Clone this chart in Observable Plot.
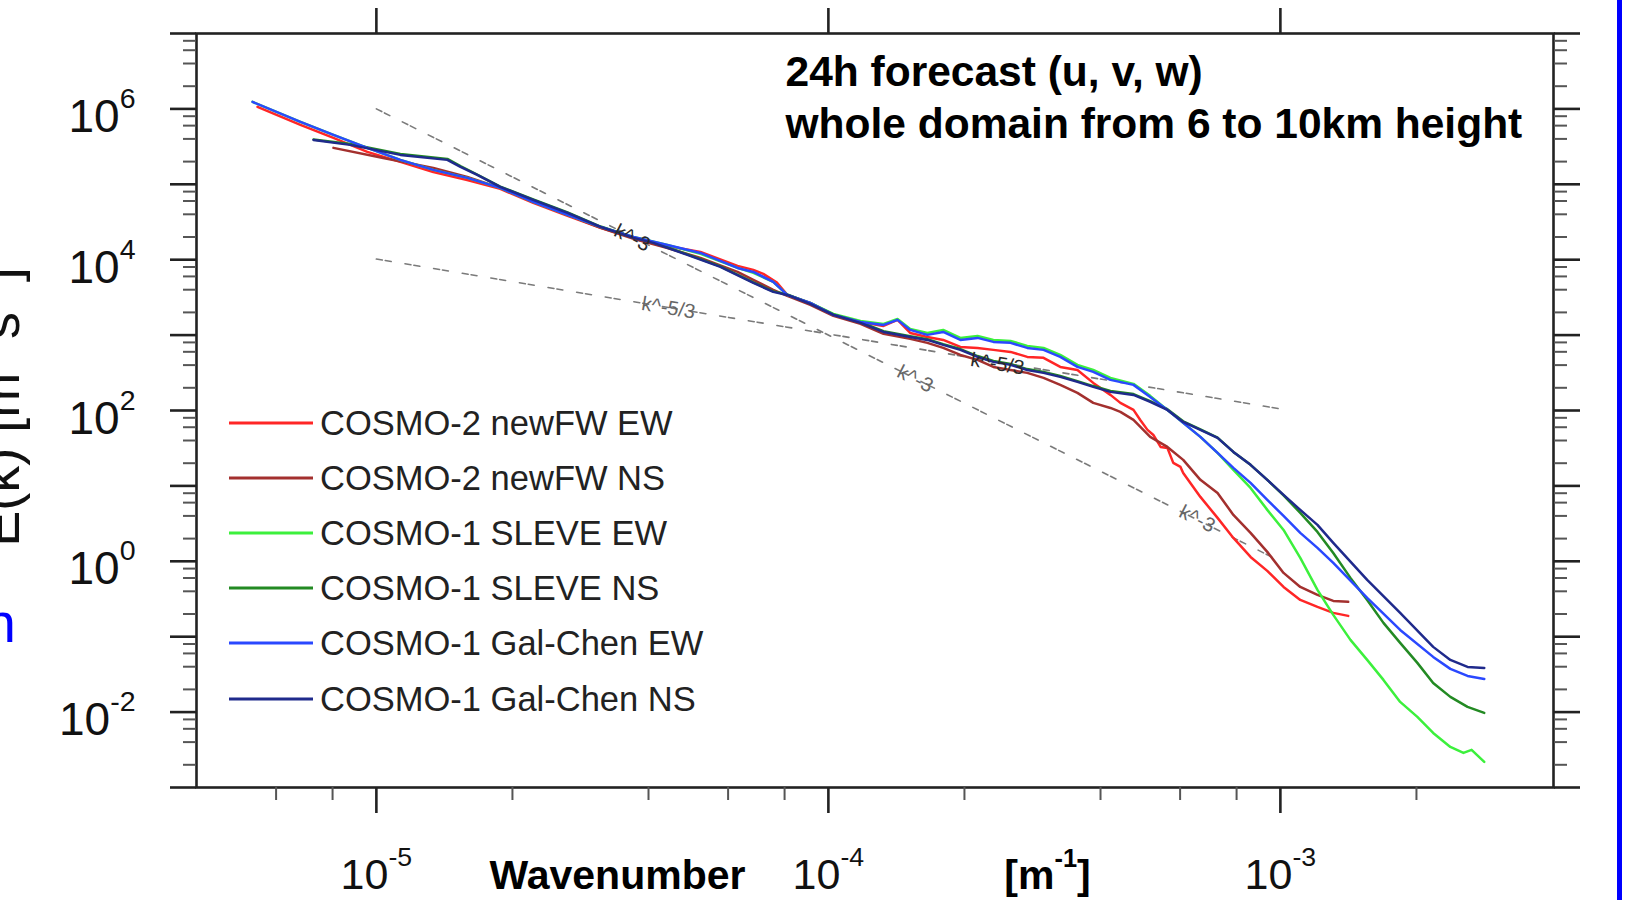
<!DOCTYPE html>
<html>
<head>
<meta charset="utf-8">
<script src="https://cdn.jsdelivr.net/npm/d3@7"></script>
<script src="https://cdn.jsdelivr.net/npm/@observablehq/plot@0.6"></script>
<style>
  html, body { margin: 0; padding: 0; background: #fff; }
  #chart { width: 1625px; height: 900px; overflow: hidden; }
</style>
</head>
<body>
<div id="chart"></div>
<script>
// ---------------- data (stored as [log10 k, log10 E]) ----------------
const seriesNames = ["COSMO-2 newFW EW", "COSMO-2 newFW NS", "COSMO-1 SLEVE EW", "COSMO-1 SLEVE NS", "COSMO-1 Gal-Chen EW", "COSMO-1 Gal-Chen NS"];
const seriesColors = ["#ff2626", "#a3302e", "#3cf03c", "#238a23", "#2a48ff", "#1f2a8c"];

const cosmo2NewFwEW = [[-5.263,6.027],[-5.168,5.788],[-5.095,5.615],[-5.020,5.430],[-4.947,5.297],[-4.874,5.164],[-4.799,5.058],[-4.726,4.939],[-4.653,4.753],[-4.577,4.581],[-4.504,4.422],[-4.431,4.289],[-4.356,4.183],[-4.283,4.103],[-4.201,3.918],[-4.166,3.865],[-4.144,3.812],[-4.113,3.692],[-4.091,3.533],[-4.040,3.427],[-3.989,3.268],[-3.929,3.175],[-3.878,3.122],[-3.847,3.202],[-3.819,3.029],[-3.781,2.976],[-3.746,2.936],[-3.708,2.843],[-3.670,2.830],[-3.635,2.804],[-3.597,2.777],[-3.560,2.711],[-3.524,2.698],[-3.487,2.578],[-3.449,2.538],[-3.414,2.366],[-3.376,2.207],[-3.354,2.101],[-3.325,2.008],[-3.310,1.875],[-3.294,1.743],[-3.281,1.676],[-3.265,1.517],[-3.250,1.504],[-3.237,1.305],[-3.221,1.252],[-3.215,1.172],[-3.177,0.854],[-3.139,0.576],[-3.104,0.310],[-3.066,0.058],[-3.029,-0.127],[-2.993,-0.340],[-2.956,-0.512],[-2.918,-0.605],[-2.883,-0.684],[-2.850,-0.724]];

const cosmo2NewFwNS = [[-5.095,5.483],[-4.985,5.350],[-4.874,5.218],[-4.799,5.098],[-4.726,4.952],[-4.653,4.767],[-4.577,4.594],[-4.504,4.422],[-4.431,4.276],[-4.356,4.156],[-4.283,4.024],[-4.201,3.838],[-4.166,3.732],[-4.122,3.600],[-4.091,3.520],[-4.040,3.401],[-3.989,3.255],[-3.929,3.149],[-3.878,3.016],[-3.819,2.950],[-3.781,2.897],[-3.746,2.830],[-3.708,2.737],[-3.670,2.671],[-3.635,2.578],[-3.597,2.538],[-3.560,2.499],[-3.524,2.432],[-3.487,2.340],[-3.449,2.233],[-3.414,2.101],[-3.376,2.034],[-3.354,1.981],[-3.325,1.875],[-3.288,1.650],[-3.250,1.517],[-3.215,1.345],[-3.177,1.080],[-3.139,0.907],[-3.104,0.615],[-3.066,0.377],[-3.029,0.125],[-2.993,-0.154],[-2.956,-0.340],[-2.918,-0.446],[-2.883,-0.525],[-2.850,-0.538]];

const cosmo1SleveEW = [[-5.274,6.093],[-5.168,5.828],[-5.095,5.655],[-5.020,5.483],[-4.947,5.324],[-4.874,5.191],[-4.799,5.085],[-4.726,4.952],[-4.653,4.767],[-4.577,4.594],[-4.504,4.435],[-4.431,4.302],[-4.356,4.196],[-4.283,4.077],[-4.201,3.891],[-4.166,3.825],[-4.122,3.706],[-4.091,3.533],[-4.040,3.427],[-3.989,3.281],[-3.929,3.188],[-3.878,3.149],[-3.847,3.215],[-3.819,3.082],[-3.781,3.029],[-3.746,3.069],[-3.708,2.963],[-3.670,2.989],[-3.635,2.936],[-3.597,2.923],[-3.560,2.857],[-3.524,2.830],[-3.487,2.737],[-3.449,2.605],[-3.414,2.538],[-3.376,2.432],[-3.325,2.353],[-3.288,2.194],[-3.250,2.008],[-3.215,1.836],[-3.177,1.650],[-3.139,1.438],[-3.104,1.212],[-3.066,0.973],[-3.029,0.682],[-2.993,0.416],[-2.956,0.045],[-2.918,-0.379],[-2.883,-0.711],[-2.845,-1.042],[-2.808,-1.308],[-2.772,-1.573],[-2.735,-1.865],[-2.697,-2.064],[-2.662,-2.276],[-2.624,-2.462],[-2.595,-2.541],[-2.577,-2.501],[-2.549,-2.660]];

const cosmo1SleveNS = [[-5.139,5.595],[-5.058,5.535],[-4.947,5.402],[-4.843,5.337],[-4.814,5.240],[-4.777,5.130],[-4.726,4.970],[-4.653,4.800],[-4.577,4.628],[-4.504,4.440],[-4.431,4.295],[-4.387,4.230],[-4.312,4.070],[-4.239,3.912],[-4.166,3.700],[-4.122,3.580],[-4.091,3.540],[-4.040,3.420],[-3.989,3.275],[-3.929,3.170],[-3.878,3.052],[-3.819,2.986],[-3.781,2.946],[-3.746,2.880],[-3.708,2.815],[-3.670,2.722],[-3.635,2.656],[-3.597,2.616],[-3.560,2.549],[-3.524,2.510],[-3.487,2.457],[-3.449,2.390],[-3.414,2.324],[-3.376,2.258],[-3.325,2.218],[-3.288,2.124],[-3.250,2.018],[-3.215,1.856],[-3.177,1.750],[-3.139,1.640],[-3.104,1.451],[-3.066,1.279],[-3.029,1.080],[-2.993,0.875],[-2.956,0.642],[-2.918,0.390],[-2.883,0.111],[-2.845,-0.220],[-2.808,-0.512],[-2.772,-0.817],[-2.735,-1.082],[-2.697,-1.347],[-2.662,-1.613],[-2.624,-1.798],[-2.586,-1.931],[-2.549,-2.011]];

const cosmo1GalChenEW = [[-5.274,6.093],[-5.168,5.828],[-5.095,5.655],[-5.020,5.483],[-4.947,5.324],[-4.874,5.191],[-4.799,5.085],[-4.726,4.952],[-4.653,4.767],[-4.577,4.594],[-4.504,4.435],[-4.431,4.302],[-4.356,4.196],[-4.283,4.090],[-4.201,3.891],[-4.166,3.838],[-4.122,3.706],[-4.091,3.533],[-4.040,3.427],[-3.989,3.268],[-3.929,3.175],[-3.878,3.135],[-3.847,3.202],[-3.819,3.069],[-3.781,3.003],[-3.746,3.042],[-3.708,2.936],[-3.670,2.963],[-3.635,2.910],[-3.597,2.897],[-3.560,2.830],[-3.524,2.804],[-3.487,2.711],[-3.449,2.578],[-3.414,2.512],[-3.376,2.406],[-3.325,2.340],[-3.288,2.180],[-3.250,2.008],[-3.215,1.836],[-3.177,1.650],[-3.139,1.438],[-3.104,1.239],[-3.066,1.040],[-3.029,0.814],[-2.993,0.602],[-2.956,0.377],[-2.918,0.178],[-2.883,-0.021],[-2.808,-0.485],[-2.735,-0.910],[-2.662,-1.268],[-2.624,-1.427],[-2.586,-1.520],[-2.549,-1.560]];

const cosmo1GalChenNS = [[-5.139,5.589],[-5.058,5.523],[-4.947,5.390],[-4.843,5.324],[-4.814,5.231],[-4.777,5.125],[-4.726,4.966],[-4.653,4.793],[-4.577,4.621],[-4.504,4.435],[-4.431,4.289],[-4.387,4.223],[-4.312,4.064],[-4.239,3.905],[-4.166,3.692],[-4.122,3.573],[-4.091,3.533],[-4.040,3.414],[-3.989,3.268],[-3.929,3.162],[-3.878,3.042],[-3.819,2.976],[-3.781,2.936],[-3.746,2.870],[-3.708,2.804],[-3.670,2.711],[-3.635,2.645],[-3.597,2.605],[-3.560,2.538],[-3.524,2.499],[-3.487,2.446],[-3.449,2.379],[-3.414,2.313],[-3.376,2.247],[-3.325,2.207],[-3.288,2.114],[-3.250,2.008],[-3.215,1.849],[-3.177,1.743],[-3.139,1.637],[-3.104,1.451],[-3.066,1.279],[-3.029,1.080],[-2.993,0.881],[-2.956,0.682],[-2.918,0.483],[-2.883,0.244],[-2.808,-0.247],[-2.735,-0.684],[-2.662,-1.135],[-2.624,-1.308],[-2.586,-1.401],[-2.549,-1.414]];

// reference slopes (dashed): [k, E]
const refSlope3 = [[1e-5, 1e6], [1e-3, 1]];
const refSlope53 = [[1e-5, 1.02e4], [1e-3, 1.05e2]];
// labels along the reference lines: [log10 k, log10 E, text, dark?]
const refLabels = [
  [-4.434, 4.289, "k^-3", true],
  [-4.354, 3.361, "k^-5/3", false],
  [-3.808, 2.419, "k^-3", false],
  [-3.626, 2.618, "k^-5/3", true],
  [-3.184, 0.562, "k^-3", false]
];

// ticks
const xMajorTicks = [1e-5, 1e-4, 1e-3];
const xMinorTicks = [6e-6, 8e-6, 2e-5, 4e-5, 6e-5, 8e-5, 2e-4, 4e-4, 6e-4, 8e-4, 2e-3];
const xLabelExponents = [-5, -4, -3];
const yMajorTicks = [1e-3, 1e-2, 1e-1, 1, 1e1, 1e2, 1e3, 1e4, 1e5, 1e6, 1e7];
const yMinorTicks = [-3, -2, -1, 0, 1, 2, 3, 4, 5, 6].flatMap(e => [2, 4, 6, 8].map(m => m * 10 ** e));
const yLabelExponents = [-2, 0, 2, 4, 6];

const titleLines = ["24h forecast (u, v, w)", "whole domain from 6 to 10km height"];
const xTitle = "Wavenumber";
const xUnit = "[m|-1|]";
const yTitle = "E(k) [m|2| s|-2|]";

// ---------------- build ----------------
const allSeries = [cosmo2NewFwEW, cosmo2NewFwNS, cosmo1SleveEW, cosmo1SleveNS, cosmo1GalChenEW, cosmo1GalChenNS];
const rows = allSeries.flatMap((arr, i) => arr.map(([lk, le]) => ({series: seriesNames[i], k: 10 ** lk, E: 10 ** le})));
const labelRows = refLabels.map(([lk, le, t, dark]) => ({k: 10 ** lk, E: 10 ** le, text: t, dark, angle: t === "k^-3" ? 26.6 : 9.5}));

const FONT = "'Liberation Sans', Arial, Helvetica, sans-serif";
const tickStroke = {stroke: "#222", strokeWidth: 2.6, tickFormat: () => "", label: null};
const minorStroke = {stroke: "#555", strokeWidth: 2, tickFormat: () => "", label: null};

const svgNode = Plot.plot({
  width: 1625,
  height: 900,
  marginLeft: 196,
  marginRight: 72,
  marginTop: 33,
  marginBottom: 113,
  style: {fontFamily: FONT, background: "white", overflow: "visible"},
  x: {type: "log", domain: [4e-6, 4.02e-3], label: null},
  y: {type: "log", domain: [1e-3, 1e7], label: null},
  color: {domain: seriesNames, range: seriesColors},
  marks: [
    Plot.line(refSlope3, {x: d => d[0], y: d => d[1], stroke: "#7a7a7a", strokeWidth: 1.6, strokeDasharray: "6,3,6,14"}),
    Plot.line(refSlope53, {x: d => d[0], y: d => d[1], stroke: "#7a7a7a", strokeWidth: 1.6, strokeDasharray: "6,3,6,14"}),
    Plot.text(labelRows.filter(d => !d.dark), {x: "k", y: "E", text: "text", rotate: "angle", fill: "#666", fontSize: 20, textAnchor: "middle"}),
    Plot.line(rows, {x: "k", y: "E", z: "series", stroke: "series", strokeWidth: 2.5, strokeLinejoin: "round"}),
    Plot.text(labelRows.filter(d => d.dark), {x: "k", y: "E", text: "text", rotate: "angle", fill: "#2a2a2a", fontSize: 20, textAnchor: "middle"}),
    Plot.frame({stroke: "#222", strokeWidth: 2.6}),
    // axes
    Plot.axisX({anchor: "bottom", ticks: xMajorTicks, tickSize: 26, ...tickStroke}),
    Plot.axisX({anchor: "bottom", ticks: xMinorTicks, tickSize: 13, ...minorStroke}),
    Plot.axisX({anchor: "top", ticks: xMajorTicks, tickSize: 26, ...tickStroke}),
    Plot.axisY({anchor: "left", ticks: yMajorTicks, tickSize: 26, ...tickStroke}),
    Plot.axisY({anchor: "left", ticks: yMinorTicks, tickSize: 13, ...minorStroke}),
    Plot.axisY({anchor: "right", ticks: yMajorTicks, tickSize: 26, ...tickStroke}),
    Plot.axisY({anchor: "right", ticks: yMinorTicks, tickSize: 13, ...minorStroke}),
    // tick labels
    Plot.text(yLabelExponents, {y: d => 10 ** d, frameAnchor: "left", text: d => `10|${d}`, textAnchor: "end", lineAnchor: "bottom", dx: -61, dy: 23, fontSize: 46, fill: "#111"}),
    Plot.text(xLabelExponents, {x: d => 10 ** d, frameAnchor: "bottom", text: d => `10|${d}`, textAnchor: "middle", lineAnchor: "bottom", dy: 101, fontSize: 43, fill: "#111"}),
    // axis titles
    Plot.text([xTitle], {text: d => d, frameAnchor: "bottom-left", dx: 421, dy: 101, textAnchor: "middle", lineAnchor: "bottom", fontSize: 41, fontWeight: "bold", fill: "#000"}),
    Plot.text([xUnit], {text: d => d, frameAnchor: "bottom-left", dx: 851, dy: 101, textAnchor: "middle", lineAnchor: "bottom", fontSize: 41, fontWeight: "bold", fill: "#000"}),
    // title in plot
    Plot.text([titleLines[0]], {text: d => d, frameAnchor: "top-left", dx: 589, dy: 52, textAnchor: "start", lineAnchor: "bottom", fontSize: 42.5, fontWeight: "bold", fill: "#000"}),
    Plot.text([titleLines[1]], {text: d => d, frameAnchor: "top-left", dx: 589, dy: 104, textAnchor: "start", lineAnchor: "bottom", fontSize: 42.5, fontWeight: "bold", fill: "#000"})
  ]
});

document.getElementById("chart").appendChild(svgNode);
const svg = d3.select(svgNode);

// legend inside the frame
const legendRowY = [423, 478, 533, 588, 643, 699];
const lg = svg.append("g").attr("font-size", 34.5).attr("fill", "#222").attr("text-anchor", "start");
seriesNames.forEach((n, i) => {
  const y = legendRowY[i];
  lg.append("line").attr("x1", 229).attr("x2", 313).attr("y1", y).attr("y2", y)
    .attr("stroke", seriesColors[i]).attr("stroke-width", 3);
  lg.append("text").attr("x", 320).attr("y", y + 12).attr("text-anchor", "start").text(n);
});

// rotated y-axis title (partly cut off at the left edge, as in the slide)
svg.append("text")
  .attr("transform", "translate(19,407) rotate(-90)")
  .attr("text-anchor", "middle")
  .attr("font-size", 54)
  .attr("fill", "#111")
  .text(yTitle);

// slide remnants: blue text fragment and blue border line
svg.append("text").attr("x", 16).attr("y", 642).attr("text-anchor", "end")
  .attr("font-size", 56).attr("fill", "#0000ff").text("n");
svg.append("rect").attr("x", 1617).attr("y", 0).attr("width", 5).attr("height", 900).attr("fill", "#0000ff");

// turn "base|sup|rest|sup|..." into tspans with superscripts
svg.selectAll("text").each(function () {
  const t = this.textContent;
  if (!t.includes("|")) return;
  const fs = parseFloat(getComputedStyle(this).fontSize) || 40;
  const supFs = fs * 0.62;
  const shift = fs * 0.52;
  const parts = t.split("|");
  this.textContent = "";
  const sel = d3.select(this);
  let raised = false;
  parts.forEach((p, i) => {
    if (!p) return;
    const ts = sel.append("tspan").text(p);
    if (i % 2 === 1) {
      ts.attr("font-size", supFs).attr("dy", raised ? 0 : -shift);
      raised = true;
    } else if (raised) {
      ts.attr("dy", shift);
      raised = false;
    }
  });
});
</script>
</body>
</html>
